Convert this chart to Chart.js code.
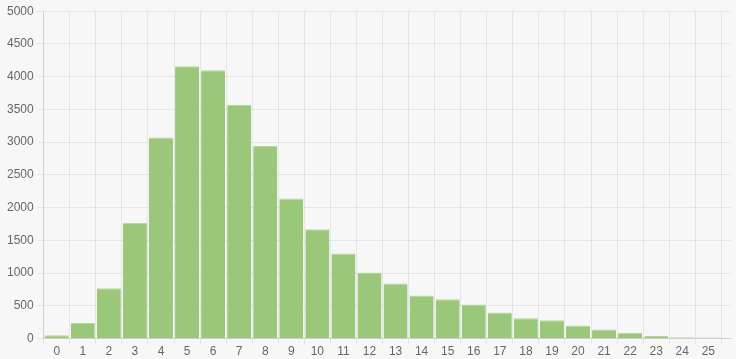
<!DOCTYPE html>
<html>
<head>
<meta charset="utf-8">
<script src="https://cdn.jsdelivr.net/npm/chart.js@4/dist/chart.umd.min.js"></script>
<style>
  html, body { margin: 0; padding: 0; background: #f7f7f7; }
  #wrap { width: 736px; height: 359px; }
</style>
</head>
<body>
<div id="wrap"><canvas id="hist"></canvas></div>
<script>
const bins = [0, 1, 2, 3, 4, 5, 6, 7, 8, 9, 10, 11, 12, 13, 14, 15, 16, 17, 18, 19, 20, 21, 22, 23, 24, 25];
const counts = [50, 240, 770, 1770, 3070, 4160, 4100, 3570, 2940, 2140, 1670, 1300, 1010, 840, 660, 600, 520, 400, 310, 280, 200, 140, 85, 40, 20, 15];
const yTicks = [0, 500, 1000, 1500, 2000, 2500, 3000, 3500, 4000, 4500, 5000];

const gridColor = 'rgba(0, 0, 0, 0.065)';
const lastLine = bins.length;

const ctx = document.getElementById('hist').getContext('2d');
new Chart(ctx, {
    type: 'bar',
    data: {
        datasets: [{
            data: bins.map((b, i) => ({ x: b, y: counts[i] })),
            backgroundColor: '#9bc77a',
            borderColor: '#b6d89e',
            borderWidth: { top: 1, left: 0, right: 0, bottom: 0 },
            borderSkipped: 'start',
            barPercentage: 0.92,
            categoryPercentage: 1
        }]
    },
    options: {
        responsive: true,
        maintainAspectRatio: false,
        animation: false,
        layout: { padding: { left: 3, top: 3, right: 5, bottom: 0 } },
        plugins: {
            legend: { display: false },
            tooltip: { enabled: false }
        },
        scales: {
            x: {
                type: 'linear',
                min: -0.5,
                max: 25.87,
                offset: false,
                afterBuildTicks: axis => {
                    axis.ticks = bins.map(v => ({ value: v }));
                },
                ticks: {
                    color: '#666',
                    padding: 0,
                    maxRotation: 0,
                    autoSkip: false,
                    font: { family: 'Liberation Sans, Arial, sans-serif', size: 12 },
                    callback: value => String(value)
                },
                grid: {
                    offset: true,
                    color: c => c.index === lastLine ? 'rgba(0,0,0,0)' : gridColor,
                    tickColor: c => c.index === lastLine ? 'rgba(0,0,0,0)' : gridColor,
                    tickLength: 6
                },
                border: { color: 'rgba(0, 0, 0, 0.1)' }
            },
            y: {
                min: 0,
                max: 5000,
                afterBuildTicks: axis => {
                    axis.ticks = yTicks.map(v => ({ value: v }));
                },
                ticks: {
                    color: '#666',
                    padding: 4,
                    font: { family: 'Liberation Sans, Arial, sans-serif', size: 12 },
                    callback: value => String(value)
                },
                grid: {
                    color: gridColor,
                    tickLength: 6
                },
                border: { color: 'rgba(0, 0, 0, 0.1)' }
            }
        }
    }
});
</script>
</body>
</html>
